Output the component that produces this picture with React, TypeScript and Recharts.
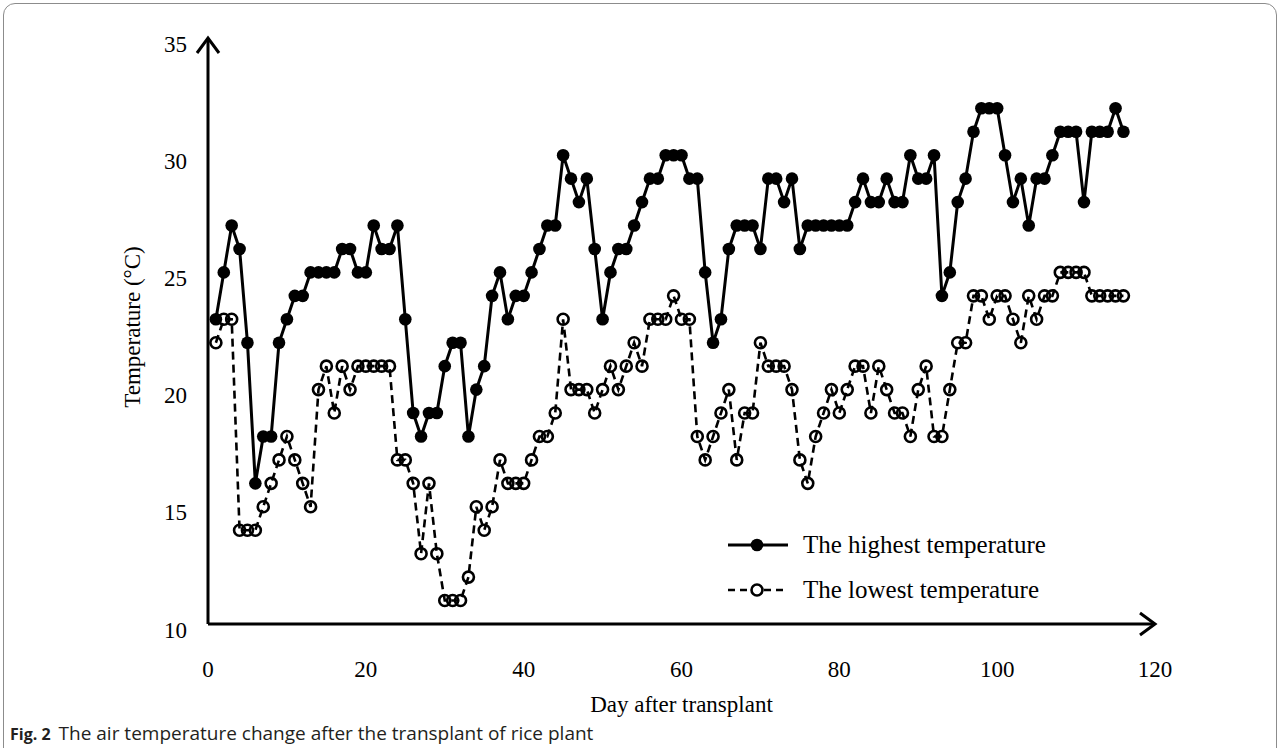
import React from 'react';
import { LineChart, Line, XAxis, YAxis } from 'recharts';

const DAYS = [
  1, 2, 3, 4, 5, 6, 7, 8, 9, 10, 11, 12, 13, 14, 15, 16, 17, 18, 19, 20,
  21, 22, 23, 24, 25, 26, 27, 28, 29, 30, 31, 32, 33, 34, 35, 36, 37, 38, 39, 40,
  41, 42, 43, 44, 45, 46, 47, 48, 49, 50, 51, 52, 53, 54, 55, 56, 57, 58, 59, 60,
  61, 62, 63, 64, 65, 66, 67, 68, 69, 70, 71, 72, 73, 74, 75, 76, 77, 78, 79, 80,
  81, 82, 83, 84, 85, 86, 87, 88, 89, 90, 91, 92, 93, 94, 95, 96, 97, 98, 99, 100,
  101, 102, 103, 104, 105, 106, 107, 108, 109, 110, 111, 112, 113, 114, 115, 116,
];

const HIGHEST = [
  23, 25, 27, 26, 22, 16, 18, 18, 22, 23,
  24, 24, 25, 25, 25, 25, 26, 26, 25, 25,
  27, 26, 26, 27, 23, 19, 18, 19, 19, 21,
  22, 22, 18, 20, 21, 24, 25, 23, 24, 24,
  25, 26, 27, 27, 30, 29, 28, 29, 26, 23,
  25, 26, 26, 27, 28, 29, 29, 30, 30, 30,
  29, 29, 25, 22, 23, 26, 27, 27, 27, 26,
  29, 29, 28, 29, 26, 27, 27, 27, 27, 27,
  27, 28, 29, 28, 28, 29, 28, 28, 30, 29,
  29, 30, 24, 25, 28, 29, 31, 32, 32, 32,
  30, 28, 29, 27, 29, 29, 30, 31, 31, 31,
  28, 31, 31, 31, 32, 31,
];

const LOWEST = [
  22, 23, 23, 14, 14, 14, 15, 16, 17, 18,
  17, 16, 15, 20, 21, 19, 21, 20, 21, 21,
  21, 21, 21, 17, 17, 16, 13, 16, 13, 11,
  11, 11, 12, 15, 14, 15, 17, 16, 16, 16,
  17, 18, 18, 19, 23, 20, 20, 20, 19, 20,
  21, 20, 21, 22, 21, 23, 23, 23, 24, 23,
  23, 18, 17, 18, 19, 20, 17, 19, 19, 22,
  21, 21, 21, 20, 17, 16, 18, 19, 20, 19,
  20, 21, 21, 19, 21, 20, 19, 19, 18, 20,
  21, 18, 18, 20, 22, 22, 24, 24, 23, 24,
  24, 23, 22, 24, 23, 24, 24, 25, 25, 25,
  25, 24, 24, 24, 24, 24,
];

const X_TICKS = [0, 20, 40, 60, 80, 100, 120];
const Y_TICKS = [10, 15, 20, 25, 30, 35];

const SERIES_NAMES = ['The highest temperature', 'The lowest temperature'];
const X_TITLE = 'Day after transplant';
const Y_TITLE = 'Temperature (°C)';
const CAPTION_LABEL = 'Fig. 2';
const CAPTION_TEXT = 'The air temperature change after the transplant of rice plant';

const data = DAYS.map((d, i) => ({ day: d, high: HIGHEST[i], low: LOWEST[i] }));

const SERIF = '"Liberation Serif", "Times New Roman", "DejaVu Serif", serif';

const XTick = (props: any) => {
  const { x, y, payload } = props;
  return (
    <text x={x} y={y + 37} textAnchor="middle" dominantBaseline="central"
      fontFamily={SERIF} fontSize={23} fill="#000">
      {payload.value}
    </text>
  );
};

const YTick = (props: any) => {
  const { x, y, payload } = props;
  return (
    <text x={x - 13} y={y + 6} textAnchor="end" dominantBaseline="central"
      fontFamily={SERIF} fontSize={23} fill="#000">
      {payload.value}
    </text>
  );
};

const FilledDot = (props: any) => {
  const { cx, cy } = props;
  if (cx == null || cy == null) return null;
  return <circle cx={cx} cy={cy} r={6.3} fill="#000" stroke="none" />;
};

const OpenDot = (props: any) => {
  const { cx, cy } = props;
  if (cx == null || cy == null) return null;
  return <circle cx={cx} cy={cy} r={5.5} fill="none" stroke="#000" strokeWidth={2.6} />;
};

const LegendBox = () => (
  <div style={{ position: 'absolute', left: 725, top: 522, fontFamily: SERIF, fontSize: 25, color: '#000' }}>
    <div style={{ display: 'flex', alignItems: 'center', height: 45 }}>
      <svg width={78} height={20}>
        <line x1={3} y1={10} x2={63} y2={10} stroke="#000" strokeWidth={3} />
        <circle cx={32} cy={10} r={6.3} fill="#000" />
      </svg>
      <span style={{ whiteSpace: 'nowrap' }}>{SERIES_NAMES[0]}</span>
    </div>
    <div style={{ display: 'flex', alignItems: 'center', height: 45 }}>
      <svg width={78} height={20}>
        <line x1={3} y1={10} x2={63} y2={10} stroke="#000" strokeWidth={2.6} strokeDasharray="7 5" />
        <circle cx={32} cy={10} r={5.5} fill="#fff" stroke="#000" strokeWidth={2.6} />
      </svg>
      <span style={{ whiteSpace: 'nowrap' }}>{SERIES_NAMES[1]}</span>
    </div>
  </div>
);

export default function App() {
  return (
    <div style={{ position: 'absolute', left: 0, top: 0, width: 1282, height: 748, overflow: 'hidden', background: '#fff' }}>
      <svg width={0} height={0} style={{ position: 'absolute' }}>
        <defs>
          <marker id="axisArrow" markerUnits="userSpaceOnUse" markerWidth={40} markerHeight={40}
            refX={22} refY={20} orient="auto-start-reverse">
            <path d="M7 9 L22 20 L7 31" fill="none" stroke="#000" strokeWidth={3} />
          </marker>
        </defs>
      </svg>
      <div style={{
        position: 'absolute', left: 3, top: 3, width: 1274, height: 780,
        border: '1px solid #8c8c8c', borderRadius: 12, boxSizing: 'border-box',
      }} />
      <div style={{ position: 'absolute', left: 0, top: 0 }}>
        <LineChart width={1282} height={748} data={data}
          margin={{ top: 38, right: 127, bottom: 84, left: 148 }}>
          <XAxis dataKey="day" type="number" domain={[0, 120]} ticks={X_TICKS}
            interval={0} height={40} tickLine={false}
            axisLine={{ stroke: '#000', strokeWidth: 3, markerEnd: 'url(#axisArrow)' }}
            tick={<XTick />} />
          <YAxis type="number" domain={[10, 35]} ticks={Y_TICKS} interval={0} width={60}
            tickLine={false}
            axisLine={{ stroke: '#000', strokeWidth: 3, markerStart: 'url(#axisArrow)' }}
            tick={<YTick />} />
          <Line type="linear" dataKey="low" name={SERIES_NAMES[1]} stroke="#000" strokeWidth={2.6}
            strokeDasharray="8 5" dot={<OpenDot />} activeDot={false} isAnimationActive={false} />
          <Line type="linear" dataKey="high" name={SERIES_NAMES[0]} stroke="#000" strokeWidth={3}
            dot={<FilledDot />} activeDot={false} isAnimationActive={false} />
        </LineChart>
      </div>
      <LegendBox />
      <div style={{
        position: 'absolute', left: 208, width: 947, top: 690, textAlign: 'center',
        fontFamily: SERIF, fontSize: 23, color: '#000', lineHeight: '30px',
      }}>{X_TITLE}</div>
      <div style={{
        position: 'absolute', left: 133, top: 327, width: 0, height: 0,
      }}>
        <div style={{
          position: 'absolute', left: 0, top: 0, transform: 'translate(-50%, -50%) rotate(-90deg)',
          whiteSpace: 'nowrap', fontFamily: SERIF, fontSize: 23, color: '#000', lineHeight: '30px',
        }}>{Y_TITLE}</div>
      </div>
      <div style={{
        position: 'absolute', left: 10, top: 722, whiteSpace: 'nowrap',
        fontFamily: '"Open Sans", "Noto Sans", sans-serif', color: '#231f20', lineHeight: '22px',
      }}>
        <span style={{ fontWeight: 700, fontSize: 16 }}>{CAPTION_LABEL}</span>
        <span style={{ marginLeft: 8, fontSize: 19 }}>{CAPTION_TEXT}</span>
      </div>
    </div>
  );
}
